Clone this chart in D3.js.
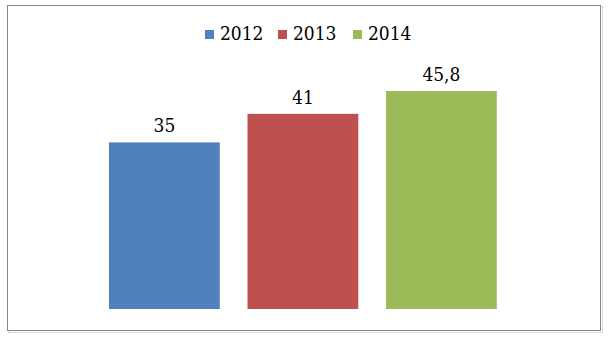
<!DOCTYPE html>
<html>
<head>
<meta charset="utf-8">
<script src="https://cdn.jsdelivr.net/npm/d3@7"></script>
<style>
  body { margin: 0; background: #fff; }
  svg { display: block; }
</style>
</head>
<body>
<div id="chart"></div>
<script>
const categories = ['2012', '2013', '2014'];
const values = [35, 41, 45.8];
const valueLabels = ['35', '41', '45,8'];
const colors = ['#4f81bd', '#c0504d', '#9bbb59'];

const width = 608, height = 338;
const fontFamily = "'DejaVu Serif Condensed', 'DejaVu Serif', serif";

const svg = d3.select('#chart').append('svg')
    .attr('width', width)
    .attr('height', height);

// outer frame with soft shadow
svg.append('rect')
    .attr('x', 8.5).attr('y', 6.5)
    .attr('width', 594).attr('height', 326)
    .attr('fill', 'none')
    .attr('stroke', '#d9d9d9')
    .attr('stroke-width', 1);
svg.append('rect')
    .attr('x', 7.5).attr('y', 5.5)
    .attr('width', 593).attr('height', 325)
    .attr('fill', '#fff')
    .attr('stroke', '#868686')
    .attr('stroke-width', 1);

const x = d3.scaleBand()
    .domain(categories)
    .range([53.6, 552.2])
    .paddingInner(0.2)
    .paddingOuter(0.4);

const y = d3.scaleLinear()
    .domain([0, 50])
    .range([309, 71]);

svg.append('g').selectAll('rect')
    .data(categories)
    .join('rect')
    .attr('x', d => x(d))
    .attr('y', (d, i) => y(values[i]))
    .attr('width', x.bandwidth())
    .attr('height', (d, i) => y(0) - y(values[i]))
    .attr('fill', (d, i) => colors[i]);

svg.append('g').selectAll('text')
    .data(categories)
    .join('text')
    .attr('x', d => x(d) + x.bandwidth() / 2)
    .attr('y', (d, i) => y(values[i]) - 10)
    .attr('text-anchor', 'middle')
    .attr('font-family', fontFamily)
    .attr('font-size', 19)
    .attr('fill', '#000')
    .text((d, i) => valueLabels[i]);

// legend
const legendX = [205, 278, 353];
const legend = svg.append('g').selectAll('g')
    .data(categories)
    .join('g')
    .attr('transform', (d, i) => `translate(${legendX[i]},30)`);
legend.append('rect')
    .attr('width', 9).attr('height', 9)
    .attr('fill', (d, i) => colors[i]);
legend.append('text')
    .attr('x', 15).attr('y', 10)
    .attr('font-family', fontFamily)
    .attr('font-size', 19)
    .attr('fill', '#000')
    .text(d => d);
</script>
</body>
</html>
